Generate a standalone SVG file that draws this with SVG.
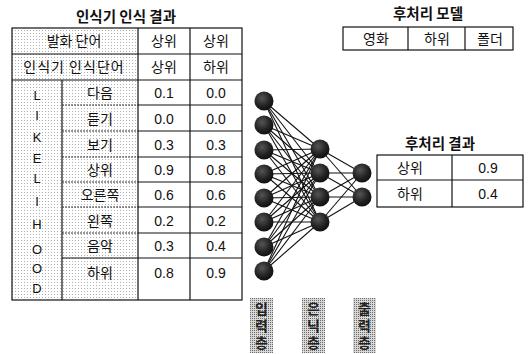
<svg xmlns="http://www.w3.org/2000/svg" width="532" height="354" viewBox="0 0 532 354">
<style>
.t{font-family:"Noto Sans CJK KR","Noto Sans",sans-serif;font-size:14px;fill:#111;text-anchor:middle}
.n{font-family:"Liberation Sans",Arial,sans-serif;font-size:14px;fill:#111;text-anchor:middle}
.h{font-family:"Noto Sans CJK KR","Noto Sans",sans-serif;font-size:14.5px;font-weight:bold;fill:#111;text-anchor:middle}
.ln{stroke:#111;stroke-width:1.2;fill:none}
.dl{stroke:#333;stroke-width:1;stroke-dasharray:2 1;fill:none}
.c{stroke:#111;stroke-width:1.1}
.lt{font-family:"Liberation Sans",Arial,sans-serif;font-size:13px;fill:#111;text-anchor:middle}
.v{font-family:"Noto Sans CJK KR","Noto Sans",sans-serif;font-size:14px;font-weight:bold;fill:#222;writing-mode:vertical-rl;text-orientation:upright;letter-spacing:3px}
</style>
<defs>
<pattern id="dots" width="3" height="3" patternUnits="userSpaceOnUse"><rect width="3" height="3" fill="#fff"/><rect width="1" height="1" fill="#b0b0b0"/></pattern>
<pattern id="dk" width="2" height="2" patternUnits="userSpaceOnUse"><rect width="2" height="2" fill="#d8d8d8"/><rect width="1" height="1" fill="#6a6a6a"/></pattern>
<radialGradient id="ball" cx="0.4" cy="0.35" r="0.7"><stop offset="0" stop-color="#555"/><stop offset="0.6" stop-color="#222"/><stop offset="1" stop-color="#0d0d0d"/></radialGradient>
</defs>

<g id="table-recognizer">
<text class="h" x="126" y="22">인식기 인식 결과</text>
<rect x="12" y="28" width="126" height="52" fill="url(#dots)"/>
<rect x="12" y="80" width="126" height="220" fill="url(#dots)"/>
<rect x="12" y="28" width="230" height="272" class="ln"/>
<line x1="12" y1="54" x2="242" y2="54" class="ln"/>
<line x1="12" y1="80" x2="242" y2="80" class="ln"/>
<line x1="138" y1="28" x2="138" y2="300" class="ln"/>
<line x1="190" y1="28" x2="190" y2="300" class="ln"/>
<line x1="62" y1="80" x2="62" y2="300" class="ln"/>
<g>
<line x1="62" y1="105" x2="138" y2="105" class="dl"/><line x1="138" y1="105" x2="242" y2="105" class="ln"/>
<line x1="62" y1="131" x2="138" y2="131" class="dl"/><line x1="138" y1="131" x2="242" y2="131" class="ln"/>
<line x1="62" y1="157" x2="138" y2="157" class="dl"/><line x1="138" y1="157" x2="242" y2="157" class="ln"/>
<line x1="62" y1="182" x2="138" y2="182" class="dl"/><line x1="138" y1="182" x2="242" y2="182" class="ln"/>
<line x1="62" y1="207" x2="138" y2="207" class="dl"/><line x1="138" y1="207" x2="242" y2="207" class="ln"/>
<line x1="62" y1="233" x2="138" y2="233" class="dl"/><line x1="138" y1="233" x2="242" y2="233" class="ln"/>
<line x1="62" y1="258" x2="242" y2="258" class="ln"/>
</g>
<text class="t" x="74" y="46">발화 단어</text>
<text class="t" x="164" y="46">상위</text>
<text class="t" x="216" y="46">상위</text>
<text class="t" x="74" y="72" letter-spacing="1">인식기 인식단어</text>
<text class="t" x="164" y="72">상위</text>
<text class="t" x="216" y="72">하위</text>
<g>
<text class="lt" x="37" y="100">L</text>
<text class="lt" x="37" y="120">I</text>
<text class="lt" x="37" y="142">K</text>
<text class="lt" x="37" y="163">E</text>
<text class="lt" x="37" y="183">L</text>
<text class="lt" x="37" y="206">I</text>
<text class="lt" x="37" y="229">H</text>
<text class="lt" x="37" y="254">O</text>
<text class="lt" x="37" y="273">O</text>
<text class="lt" x="37" y="293">D</text>
</g>
<text class="t" x="100" y="98">다음</text><text class="n" x="164" y="98">0.1</text><text class="n" x="216" y="98">0.0</text>
<text class="t" x="100" y="124">듣기</text><text class="n" x="164" y="124">0.0</text><text class="n" x="216" y="124">0.0</text>
<text class="t" x="100" y="150">보기</text><text class="n" x="164" y="150">0.3</text><text class="n" x="216" y="150">0.3</text>
<text class="t" x="100" y="175">상위</text><text class="n" x="164" y="175">0.9</text><text class="n" x="216" y="175">0.8</text>
<text class="t" x="100" y="200">오른쪽</text><text class="n" x="164" y="200">0.6</text><text class="n" x="216" y="200">0.6</text>
<text class="t" x="100" y="226">왼쪽</text><text class="n" x="164" y="226">0.2</text><text class="n" x="216" y="226">0.2</text>
<text class="t" x="100" y="251">음악</text><text class="n" x="164" y="251">0.3</text><text class="n" x="216" y="251">0.4</text>
<text class="t" x="100" y="278">하위</text><text class="n" x="164" y="278">0.8</text><text class="n" x="216" y="278">0.9</text>
</g>

<g id="table-model">
<text class="h" x="428" y="19">후처리 모델</text>
<rect x="343" y="27" width="170" height="23" class="ln"/>
<line x1="408" y1="27" x2="408" y2="50" class="ln"/>
<line x1="465" y1="27" x2="465" y2="50" class="ln"/>
<text class="t" x="376" y="44">영화</text>
<text class="t" x="437" y="44">하위</text>
<text class="t" x="490" y="44">폴더</text>
</g>

<g id="table-result">
<text class="h" x="440" y="149">후처리 결과</text>
<rect x="377" y="155" width="146" height="52" class="ln"/>
<line x1="377" y1="180" x2="523" y2="180" class="ln"/>
<line x1="452" y1="155" x2="452" y2="207" class="ln"/>
<text class="t" x="410" y="173">상위</text><text class="n" x="488" y="173">0.9</text>
<text class="t" x="410" y="199">하위</text><text class="n" x="488" y="199">0.4</text>
</g>

<g id="connectors">
<g class="c">
<line x1="264" y1="101" x2="320" y2="149"/><line x1="264" y1="101" x2="320" y2="173"/><line x1="264" y1="101" x2="320" y2="197"/><line x1="264" y1="101" x2="320" y2="222"/>
<line x1="264" y1="125" x2="320" y2="149"/><line x1="264" y1="125" x2="320" y2="173"/><line x1="264" y1="125" x2="320" y2="197"/><line x1="264" y1="125" x2="320" y2="222"/>
<line x1="264" y1="150" x2="320" y2="149"/><line x1="264" y1="150" x2="320" y2="173"/><line x1="264" y1="150" x2="320" y2="197"/><line x1="264" y1="150" x2="320" y2="222"/>
<line x1="264" y1="174" x2="320" y2="149"/><line x1="264" y1="174" x2="320" y2="173"/><line x1="264" y1="174" x2="320" y2="197"/><line x1="264" y1="174" x2="320" y2="222"/>
<line x1="264" y1="198" x2="320" y2="149"/><line x1="264" y1="198" x2="320" y2="173"/><line x1="264" y1="198" x2="320" y2="197"/><line x1="264" y1="198" x2="320" y2="222"/>
<line x1="264" y1="222" x2="320" y2="149"/><line x1="264" y1="222" x2="320" y2="173"/><line x1="264" y1="222" x2="320" y2="197"/><line x1="264" y1="222" x2="320" y2="222"/>
<line x1="264" y1="247" x2="320" y2="149"/><line x1="264" y1="247" x2="320" y2="173"/><line x1="264" y1="247" x2="320" y2="197"/><line x1="264" y1="247" x2="320" y2="222"/>
<line x1="264" y1="271" x2="320" y2="149"/><line x1="264" y1="271" x2="320" y2="173"/><line x1="264" y1="271" x2="320" y2="197"/><line x1="264" y1="271" x2="320" y2="222"/>
<line x1="320" y1="149" x2="362" y2="173"/><line x1="320" y1="149" x2="362" y2="197"/>
<line x1="320" y1="173" x2="362" y2="173"/><line x1="320" y1="173" x2="362" y2="197"/>
<line x1="320" y1="197" x2="362" y2="173"/><line x1="320" y1="197" x2="362" y2="197"/>
<line x1="320" y1="222" x2="362" y2="173"/><line x1="320" y1="222" x2="362" y2="197"/>
</g>
</g>

<g id="input-nodes" fill="url(#ball)">
<circle cx="264" cy="101" r="9.5"/><circle cx="264" cy="125" r="9.5"/><circle cx="264" cy="150" r="9.5"/><circle cx="264" cy="174" r="9.5"/>
<circle cx="264" cy="198" r="9.5"/><circle cx="264" cy="222" r="9.5"/><circle cx="264" cy="247" r="9.5"/><circle cx="264" cy="271" r="9.5"/>
</g>
<g id="hidden-nodes" fill="url(#ball)">
<circle cx="320" cy="149" r="9.5"/><circle cx="320" cy="173" r="9.5"/><circle cx="320" cy="197" r="9.5"/><circle cx="320" cy="222" r="9.5"/>
</g>
<g id="output-nodes" fill="url(#ball)">
<circle cx="362" cy="173" r="9.5"/><circle cx="362" cy="197" r="9.5"/>
</g>

<g id="label-input">
<rect x="250" y="298" width="23" height="55" fill="url(#dk)"/>
<text class="v" x="261.5" y="302">입력층</text>
</g>
<g id="label-hidden">
<rect x="302" y="298" width="23" height="55" fill="url(#dk)"/>
<text class="v" x="313.5" y="302">은닉층</text>
</g>
<g id="label-output">
<rect x="353" y="298" width="23" height="55" fill="url(#dk)"/>
<text class="v" x="364.5" y="302">출력층</text>
</g>
</svg>
